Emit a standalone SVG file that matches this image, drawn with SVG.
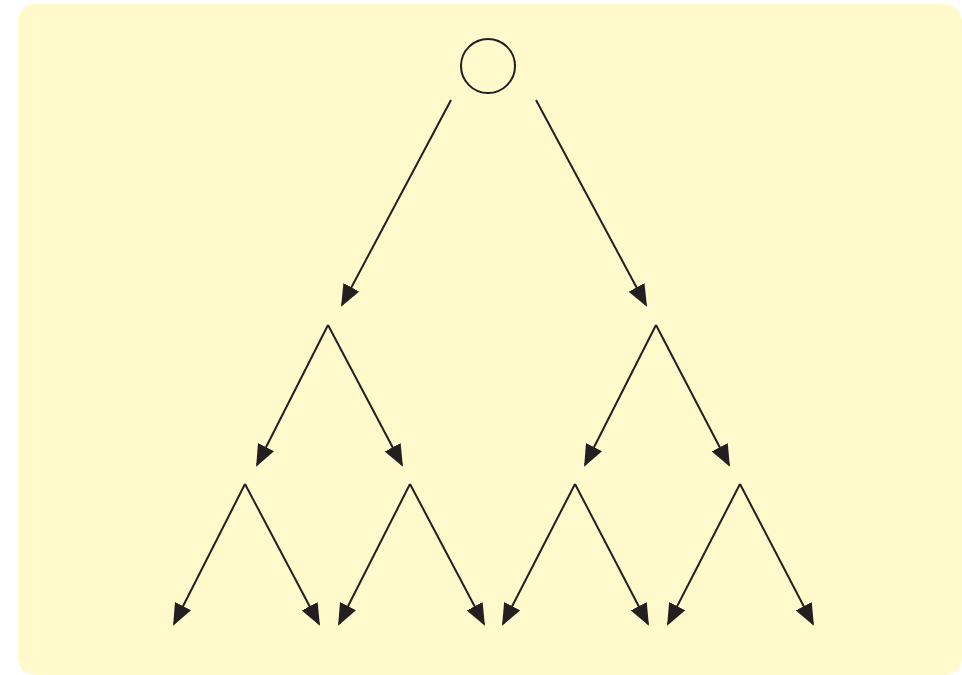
<svg xmlns="http://www.w3.org/2000/svg" width="962" height="675" viewBox="0 0 962 675">
<defs>
<style>
.bg{fill:#FFF9CC}
.edge{stroke:#231F20;stroke-width:2;fill:none;marker-end:url(#ah)}
.node{fill:none;stroke:#231F20;stroke-width:2}
</style>
<marker id="ah" markerUnits="userSpaceOnUse" markerWidth="24" markerHeight="20" refX="20" refY="9" orient="auto">
<path d="M0,0 L22,9 L0,18 z" fill="#231F20"/>
</marker>
</defs>
<rect class="bg" x="18" y="4" width="944" height="671" rx="17"/>
<g id="root"><circle class="node" cx="488" cy="66" r="27"/></g>
<g id="connectors">
<line class="edge" x1="451" y1="100" x2="342" y2="305"/>
<line class="edge" x1="536" y1="100" x2="646" y2="305"/>
<line class="edge" x1="328" y1="325" x2="257" y2="465"/>
<line class="edge" x1="328" y1="325" x2="402" y2="465"/>
<line class="edge" x1="656" y1="325" x2="585" y2="465"/>
<line class="edge" x1="656" y1="325" x2="729" y2="465"/>
<line class="edge" x1="245" y1="484" x2="174" y2="624"/>
<line class="edge" x1="245" y1="484" x2="319" y2="624"/>
<line class="edge" x1="410" y1="484" x2="339" y2="624"/>
<line class="edge" x1="410" y1="484" x2="484" y2="624"/>
<line class="edge" x1="575" y1="484" x2="503" y2="624"/>
<line class="edge" x1="575" y1="484" x2="648" y2="624"/>
<line class="edge" x1="740" y1="484" x2="668" y2="624"/>
<line class="edge" x1="740" y1="484" x2="813" y2="624"/>
</g>
</svg>
